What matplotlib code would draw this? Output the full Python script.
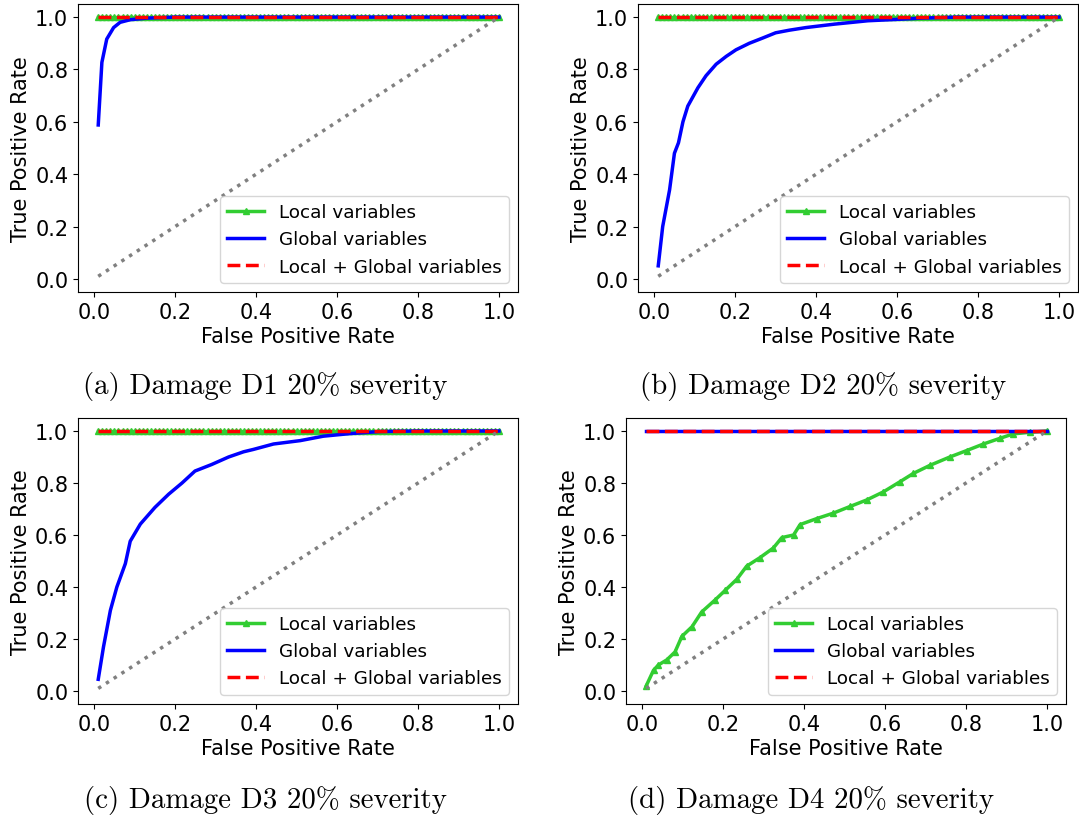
import numpy as np
import matplotlib
matplotlib.use("Agg")
import matplotlib.pyplot as plt

matplotlib.rcParams.update({'font.size': 15})

# seuils communs (taux de faux positifs) pour les courbes plates
fpr_grid = np.round(np.arange(1, 101) / 100, 2)
ones_grid = np.ones_like(fpr_grid)

# D1 - variables globales
d1_global_fpr = [0.01, 0.019, 0.031, 0.048, 0.064, 0.089, 0.13, 0.2, 0.4, 0.6, 0.8, 1.0]
d1_global_tpr = [0.588, 0.827, 0.916, 0.96, 0.98, 0.99, 0.996, 1.0, 1.0, 1.0, 1.0, 1.0]

# D2 - variables globales
d2_global_fpr = [0.01, 0.021, 0.038, 0.05, 0.06, 0.071, 0.083, 0.108, 0.128, 0.153, 0.178,
                 0.202, 0.235, 0.268, 0.30, 0.334, 0.375, 0.445, 0.528, 0.61, 0.66, 0.75,
                 0.9, 1.0]
d2_global_tpr = [0.05, 0.20, 0.34, 0.48, 0.52, 0.60, 0.66, 0.73, 0.776, 0.82, 0.85,
                 0.875, 0.90, 0.92, 0.94, 0.95, 0.96, 0.973, 0.986, 0.992, 0.996, 1.0,
                 1.0, 1.0]

# D3 - variables globales
d3_global_fpr = [0.01, 0.023, 0.04, 0.056, 0.077, 0.089, 0.114, 0.15, 0.184, 0.217, 0.249,
                 0.29, 0.332, 0.369, 0.393, 0.443, 0.509, 0.566, 0.632, 0.706, 0.8, 1.0]
d3_global_tpr = [0.045, 0.17, 0.31, 0.40, 0.49, 0.576, 0.642, 0.706, 0.757, 0.80, 0.846,
                 0.871, 0.90, 0.92, 0.929, 0.95, 0.963, 0.98, 0.99, 0.998, 1.0, 1.0]

# D4 - variables locales
d4_local_fpr = [0.01, 0.028, 0.04, 0.061, 0.081, 0.098, 0.123, 0.147, 0.18, 0.205, 0.234,
                0.258, 0.291, 0.324, 0.345, 0.374, 0.39, 0.431, 0.472, 0.514, 0.555, 0.596,
                0.637, 0.67, 0.711, 0.76, 0.802, 0.843, 0.884, 0.917, 0.958, 1.0]
d4_local_tpr = [0.02, 0.08, 0.10, 0.12, 0.15, 0.21, 0.247, 0.304, 0.35, 0.387, 0.43,
                0.48, 0.513, 0.55, 0.59, 0.60, 0.64, 0.663, 0.684, 0.71, 0.735, 0.766,
                0.805, 0.837, 0.868, 0.90, 0.925, 0.95, 0.972, 0.989, 0.995, 1.0]

captions = ["(a) Damage D1 20% severity", "(b) Damage D2 20% severity",
            "(c) Damage D3 20% severity", "(d) Damage D4 20% severity"]

# chaque panneau : (local, global, local+global)
panels = [
    ((fpr_grid, ones_grid), (d1_global_fpr, d1_global_tpr), (fpr_grid, ones_grid)),
    ((fpr_grid, ones_grid), (d2_global_fpr, d2_global_tpr), (fpr_grid, ones_grid)),
    ((fpr_grid, ones_grid), (d3_global_fpr, d3_global_tpr), (fpr_grid, ones_grid)),
    ((d4_local_fpr, d4_local_tpr), (fpr_grid, ones_grid), (fpr_grid, ones_grid)),
]

W, H = 1079, 820
# boites des axes en pixels : gauche, haut, droite, bas
boxes = [(78, 5, 518, 293), (638, 5, 1078, 293), (78, 419, 518, 705), (626, 419, 1066, 705)]
cap_pos = [(265, 387), (823, 387), (265, 801), (811, 801)]

fig = plt.figure(figsize=(W / 100, H / 100), dpi=100)

for k in range(4):
    l, t, r, b = boxes[k]
    ax = fig.add_axes([l / W, 1 - b / H, (r - l) / W, (b - t) / H])
    loc, glob, both = panels[k]
    ax.plot(loc[0], loc[1], color='limegreen', marker='^', markersize=4, lw=2.5,
            label="Local variables")
    ax.plot(glob[0], glob[1], color='blue', lw=2.5, label="Global variables")
    ax.plot(both[0], both[1], color='red', ls='--', lw=2.5, label="Local + Global variables")
    ax.plot(fpr_grid, fpr_grid, color='gray', ls=':', lw=2.5)
    ax.set_xlim(-0.04, 1.047)
    ax.set_ylim(-0.05, 1.05)
    ax.set_xticks([0.0, 0.2, 0.4, 0.6, 0.8, 1.0])
    ax.set_yticks([0.0, 0.2, 0.4, 0.6, 0.8, 1.0])
    ax.set_xlabel("False Positive Rate", labelpad=3)
    ax.set_ylabel("True Positive Rate", labelpad=3)
    ax.legend(loc='lower right', fontsize=13.2)
    fig.text(cap_pos[k][0] / W, 1 - cap_pos[k][1] / H, captions[k], ha='center',
             va='center', fontsize=20.8, family='cmr10')

fig.savefig("out.png", dpi=100)
